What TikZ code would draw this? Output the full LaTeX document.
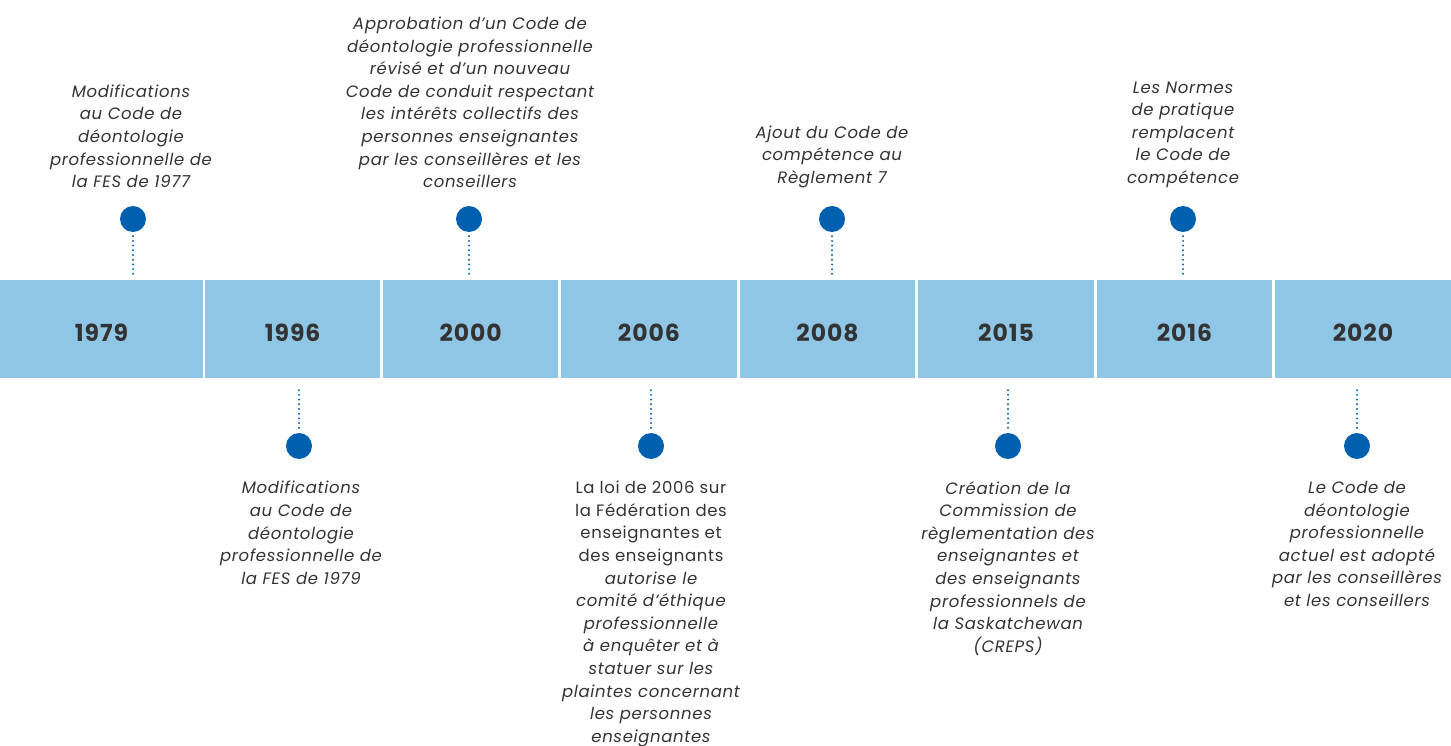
\documentclass[tikz,border=0pt]{standalone}
\usepackage{fontspec}
\setmainfont[Ligatures=NoCommon, LetterSpace=4]{Poppins}
\usepackage{xcolor}
\definecolor{bandblue}{HTML}{90C6E5}
\definecolor{dotblue}{HTML}{0060B0}
\definecolor{txtgray}{HTML}{333333}
\tikzset{% styles of the timeline
    seg/.style={fill=bandblue, inner sep=0pt, minimum height=98pt,
        text height=25pt, text depth=0pt,
        font=\fontsize{23.5}{26}\selectfont\bfseries, text=txtgray},
    event/.style={circle, fill=dotblue, inner sep=0pt, minimum size=26pt},
    note/.style={align=center, inner sep=0pt, text=txtgray,
        font=\fontsize{16.5}{22.6}\selectfont\itshape},
    dotline/.style={dotblue, line width=2.2pt, line cap=round,
        dash pattern=on 0pt off 4.7pt}
}
\begin{document}
\begin{tikzpicture}[x=1pt,y=-1pt]
    \useasboundingbox (0,0) rectangle (1451,746);

    % band of years
    \node[seg, minimum width=203pt] (s1979) at (101.5,329) {1979};
    \node[seg, minimum width=175.5pt] (s1996) at (292.7,329) {1996};
    \node[seg, minimum width=175.5pt] (s2000) at (470.7,329) {2000};
    \node[seg, minimum width=175.5pt] (s2006) at (648.9,329) {2006};
    \node[seg, minimum width=175.5pt] (s2008) at (827.5,329) {2008};
    \node[seg, minimum width=175.5pt] (s2015) at (1006.0,329) {2015};
    \node[seg, minimum width=175.5pt] (s2016) at (1184.5,329) {2016};
    \node[seg, minimum width=176pt] (s2020) at (1363,329) {2020};

    % events above
    \node[event] (d1979) at (133,219) {};
    \node[event] (d2000) at (469,219) {};
    \node[event] (d2008) at (832,219) {};
    \node[event] (d2016) at (1183,219) {};

    % events below
    \node[event] (d1996) at (299,446) {};
    \node[event] (d2006) at (651,446) {};
    \node[event] (d2015) at (1008,446) {};
    \node[event] (d2020) at (1357,446) {};

    % dotted links
    \draw[dotline, shorten <=4pt, shorten >=5pt] (d1979) -- (d1979 |- s1979.north);
    \draw[dotline, shorten <=4pt, shorten >=5pt] (d2000) -- (d2000 |- s2000.north);
    \draw[dotline, shorten <=4pt, shorten >=5pt] (d2008) -- (d2008 |- s2008.north);
    \draw[dotline, shorten <=4pt, shorten >=5pt] (d2016) -- (d2016 |- s2016.north);
    \draw[dotline, shorten <=5pt, shorten >=12pt] (d1996) -- (d1996 |- s1996.south);
    \draw[dotline, shorten <=5pt, shorten >=12pt] (d2006) -- (d2006 |- s2006.south);
    \draw[dotline, shorten <=5pt, shorten >=12pt] (d2015) -- (d2015 |- s2015.south);
    \draw[dotline, shorten <=5pt, shorten >=12pt] (d2020) -- (d2020 |- s2020.south);

    % texts above
    \node[note, anchor=south] (t1979) at (131,188) {Modifications\\au Code de\\déontologie\\professionnelle de\\la FES de 1977};
    \node[note, anchor=south] (t2000) at (470,188) {Approbation d’un Code de\\déontologie professionnelle\\révisé et d’un nouveau\\Code de conduit respectant\\les intérêts collectifs des\\personnes enseignantes\\par les conseillères et les\\conseillers};
    \node[note, anchor=south] (t2008) at (832,188) {Ajout du Code de\\compétence au\\Règlement 7};
    \node[note, anchor=south] (t2016) at (1183,188) {Les Normes\\de pratique\\remplacent\\le Code de\\compétence};

    % texts below
    \node[note, anchor=north] (t1996) at (301,481) {Modifications\\au Code de\\déontologie\\professionnelle de\\la FES de 1979};
    \node[note, anchor=north] (t2006) at (651,481) {\upshape La loi de 2006 sur\\\upshape la Fédération des\\\upshape enseignantes et\\\upshape des enseignants\\autorise le\\comité d’éthique\\professionnelle\\à enquêter et à\\statuer sur les\\plaintes concernant\\les personnes\\enseignantes};
    \node[note, anchor=north] (t2015) at (1008,481) {Création de la\\Commission de\\règlementation des\\enseignantes et\\des enseignants\\professionnels de\\la Saskatchewan\\(CREPS)};
    \node[note, anchor=north] (t2020) at (1357,481) {Le Code de\\déontologie\\professionnelle\\actuel est adopté\\par les conseillères\\et les conseillers};
\end{tikzpicture}
\end{document}
